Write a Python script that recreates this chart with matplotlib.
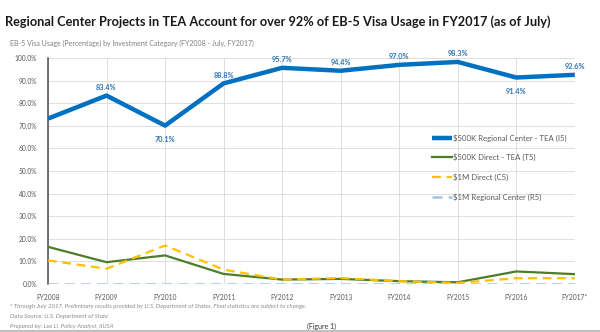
import matplotlib.pyplot as plt

# data
years = ['FY2008', 'FY2009', 'FY2010', 'FY2011', 'FY2012', 'FY2013',
         'FY2014', 'FY2015', 'FY2016', 'FY2017*']
rc_tea = [73.2, 83.4, 70.1, 88.8, 95.7, 94.4, 97.0, 98.3, 91.4, 92.6]
direct_tea = [16.4, 9.6, 12.6, 4.4, 1.9, 2.2, 1.2, 0.7, 5.5, 4.3]
direct_1m = [10.4, 6.7, 17.0, 6.3, 1.9, 2.6, 1.2, 0.4, 2.5, 2.5]
rc_1m = [0.1, 0.1, 0.1, 0.1, 0.1, 0.1, 0.1, 0.1, 0.1, 0.1]
label_pos = [None, 'above', 'below', 'above', 'above', 'above', 'above', 'above', 'below', 'above']

plt.rcParams['font.family'] = ['Lato', 'DejaVu Sans']

fig = plt.figure(figsize=(6, 3.32), dpi=100)
ax = fig.add_axes([0.08, 0.145, 0.878, 0.68])
x = list(range(len(years)))

ax.plot(x, rc_tea, color='#0070C0', linewidth=3.2, label='$500K Regional Center - TEA (I5)',
        solid_capstyle='butt', zorder=5)
ax.plot(x, direct_tea, color='#4E7D2A', linewidth=1.6, label='$500K Direct - TEA (T5)', zorder=4)
ax.plot(x, direct_1m, color='#FFC000', linewidth=1.6, dashes=(4, 2.5), label='$1M Direct (C5)', zorder=4)
ax.plot(x, rc_1m, color='#9DC3E6', linewidth=1.8, dashes=(4, 2.5), label='$1M Regional Center (R5)', zorder=3)

#data labels for the top series
for i, v in enumerate(rc_tea):
    if label_pos[i] is None:
        continue
    dy = 6 if label_pos[i] == 'above' else -10
    ax.annotate(f'{v:.1f}%', (i, v), xytext=(0, dy), textcoords='offset points',
                ha='center', va='center', fontsize=5.3, color='#2E75B6', fontweight='bold')

ax.set_xlim(0, len(years) - 1)
ax.set_ylim(0, 100)
ax.set_xticks(x)
ax.set_xticklabels(years)
ax.set_yticks(range(0, 101, 10))
ax.set_yticklabels([f'{v:.1f}%' for v in range(0, 101, 10)])
ax.tick_params(axis='both', length=0, labelsize=4.8, labelcolor='#595959')
ax.tick_params(axis='x', pad=7)
ax.tick_params(axis='y', pad=8)
ax.grid(True, color='#D9D9D9', linewidth=0.6)
ax.set_axisbelow(True)
for s in ['top', 'right', 'bottom']:
    ax.spines[s].set_visible(False)
ax.spines['left'].set_color('#4d4d4d')
ax.spines['left'].set_linewidth(1.1)

leg = ax.legend(loc='upper left', bbox_to_anchor=(0.715, 0.695), frameon=False,
                fontsize=5.6, handlelength=2.6, labelspacing=1.55, handletextpad=0.2)
for t in leg.get_texts():
    t.set_color('#595959')

fig.text(0.008, 0.935, 'Regional Center Projects in TEA Account for over 92% of EB-5 Visa Usage in FY2017 (as of July)',
         fontsize=9.2, fontweight='bold', color='#1a1a1a', va='center')
fig.text(0.017, 0.868, 'EB-5 Visa Usage (Percentage) by Investment Category (FY2008 - July, FY2017)',
         fontsize=5, color='#7f7f7f', va='center')

fig.text(0.017, 0.078, '* Through July 2017. Preliminary results provided by U.S. Department of States. Final statistics are subject to change.',
         fontsize=4.4, color='#8c8c8c', style='italic', va='center')
fig.text(0.017, 0.048, 'Data Source: U.S. Department of State', fontsize=4.4, color='#8c8c8c', style='italic', va='center')
fig.text(0.017, 0.018, 'Prepared by: Lee Li, Policy Analyst, IIUSA', fontsize=4.4, color='#8c8c8c', style='italic', va='center')
fig.text(0.512, 0.018, '(Figure 1)', fontsize=5, color='#333333', va='center')

# thin gray band at the very bottom
fig.add_artist(plt.Line2D([0, 1], [0.004, 0.004], transform=fig.transFigure, color='#bfbfbf', linewidth=1.5))

fig.savefig('out.png', dpi=100)
